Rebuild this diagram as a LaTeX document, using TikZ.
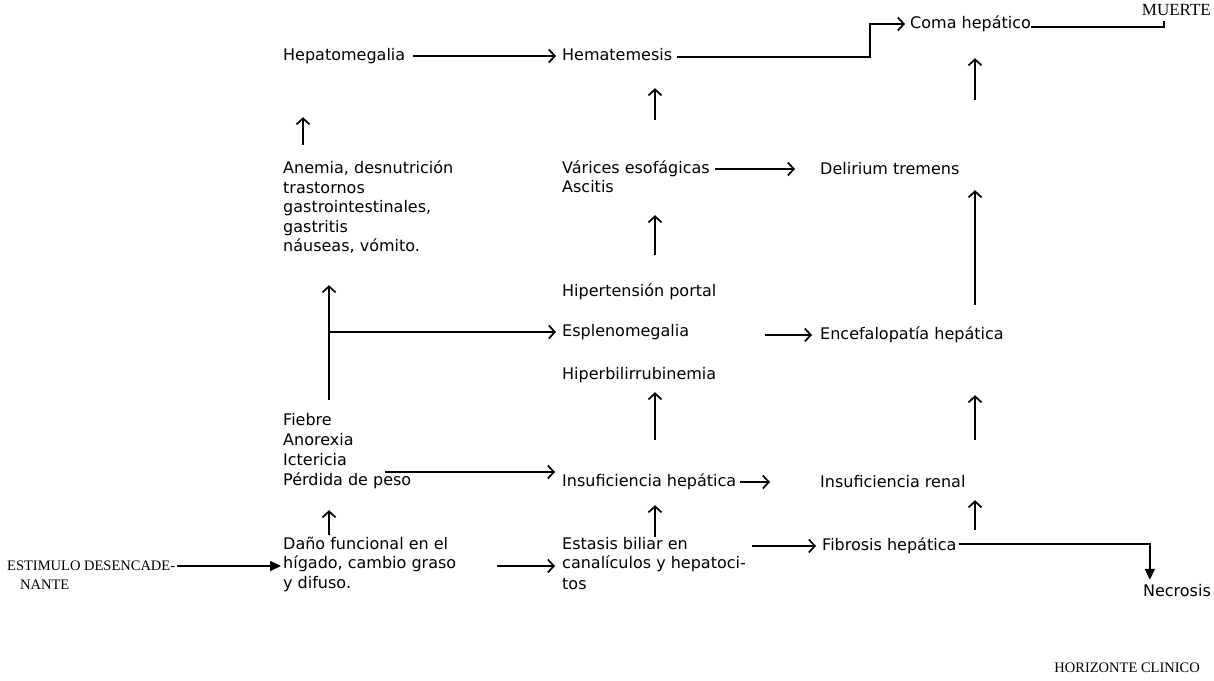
\documentclass[tikz,border=0pt]{standalone}
\usepackage{fontspec}
\setmainfont{DejaVu Sans}
\newfontfamily\serifl{Liberation Serif}
\usetikzlibrary{arrows.meta}
\begin{document}
\begin{tikzpicture}[x=1pt,y=-1pt,
  lbl/.style={font=\fontsize{16}{20}\selectfont, inner sep=0pt, anchor=west, text height=12pt, text depth=4pt},
  ser/.style={font=\serifl\fontsize{14.5}{18}\selectfont, inner sep=0pt, anchor=west, text height=12pt, text depth=4pt},
  conn/.style={line width=1.7pt},
  arr/.style={conn,-{Straight Barb[length=6pt,width=13pt,line width=1.7pt]}},
  farr/.style={conn,-{Triangle[length=11pt,width=10pt]}}]
\useasboundingbox[fill=white] (0,0) rectangle (1214,680);

% column 1
\node[lbl] (hepa) at (283,56) {Hepatomegalia};
\node[lbl] (anem1) at (283,169) {Anemia, desnutrición};
\node[lbl] (anem2) at (283,189) {trastornos};
\node[lbl] (anem3) at (283,208) {gastrointestinales,};
\node[lbl] (anem4) at (283,228) {gastritis};
\node[lbl] (anem5) at (283,247) {náuseas, vómito.};
\node[lbl] (fieb1) at (283,421) {Fiebre};
\node[lbl] (fieb2) at (283,441) {Anorexia};
\node[lbl] (fieb3) at (283,461) {Ictericia};
\node[lbl] (fieb4) at (283,481) {Pérdida de peso};
\node[lbl] (dano1) at (283,545) {Daño funcional en el};
\node[lbl] (dano2) at (283,564) {hígado, cambio graso};
\node[lbl] (dano3) at (283,584) {y difuso.};

% column 2
\node[lbl] (hema) at (562,56) {Hematemesis};
\node[lbl] (vari) at (562,169) {Várices esofágicas};
\node[lbl] (asci) at (562,188) {Ascitis};
\node[lbl] (hiper) at (562,292) {Hipertensión portal};
\node[lbl] (esple) at (562,332) {Esplenomegalia};
\node[lbl] (hbili) at (562,375) {Hiperbilirrubinemia};
\node[lbl] (insh) at (562,482) {Insuficiencia hepática};
\node[lbl] (esta1) at (562,545) {Estasis biliar en};
\node[lbl] (esta2) at (562,564) {canalículos y hepatoci-};
\node[lbl] (esta3) at (562,585) {tos};

% column 3
\node[lbl] (coma) at (910,24) {Coma hepático};
\node[lbl] (deli) at (820,170) {Delirium tremens};
\node[lbl] (ence) at (820,335) {Encefalopatía hepática};
\node[lbl] (insr) at (820,483) {Insuficiencia renal};
\node[lbl] (fibr) at (822,546) {Fibrosis hepática};
\node[lbl, anchor=east] (necr) at (1211,592) {Necrosis};

% serif labels
\node[ser, font=\serifl\fontsize{17}{18}\selectfont, anchor=east] (muerte) at (1211,12) {MUERTE};
\node[ser] (esti1) at (7,566) {ESTIMULO DESENCADE-};
\node[ser] (esti2) at (20,585) {NANTE};
\node[ser, anchor=east] (hori) at (1200,668) {HORIZONTE CLINICO};

% connectors, column 1
\draw[arr, shorten <=8pt, shorten >=6pt] (hepa.east) -- (hema.west |- hepa.east);
\draw[arr, shorten <=16pt, shorten >=53pt] ([xshift=20pt]anem1.north west) -- ([xshift=20pt]anem1.north west |- hepa.south);
\draw[arr, shorten <=13pt, shorten >=30pt] ([xshift=46pt]fieb1.north west) -- ([xshift=46pt]fieb1.north west |- anem5.south);
\coordinate (br) at ([xshift=46pt]fieb1.north west |- esple.west);
\draw[arr, shorten >=6pt] (br) -- (esple.west);
\draw[arr, shorten >=7pt] ([xshift=102pt,yshift=9pt]fieb4.west) -- ([yshift=9pt]fieb4.west -| insh.west);
\draw[arr, shorten <=2pt, shorten >=21pt] ([xshift=46pt]dano1.north west) -- ([xshift=46pt]dano1.north west |- fieb4.south);
\draw[farr, shorten <=2pt, shorten >=2pt] (esti1.east) -- (esti1.east -| dano2.west);
\draw[arr, shorten >=7pt] ([xshift=214pt,yshift=-2pt]dano2.west) -- ([yshift=-2pt]dano2.west -| esta2.west);

% connectors, column 2
\coordinate (hc) at ([xshift=-40pt]coma.west);
\draw[arr, shorten >=5pt] ([xshift=5pt,yshift=-1pt]hema.east) -| (hc) -- (coma.west);
\draw[arr, shorten <=41pt, shorten >=24pt] ([xshift=93pt]vari.north west) -- ([xshift=93pt]vari.north west |- hema.south);
\draw[arr, shorten <=29pt, shorten >=19pt] ([xshift=93pt]hiper.north west) -- ([xshift=93pt]hiper.north west |- asci.south);
\draw[arr, shorten <=34pt, shorten >=9pt] ([xshift=93pt]insh.north west) -- ([xshift=93pt]insh.north west |- hbili.south);
\draw[arr, shorten >=15pt] ([xshift=93pt]esta1.north west) -- ([xshift=93pt]esta1.north west |- insh.south);
\draw[arr, shorten <=5pt, shorten >=25pt] (vari.east) -- (vari.east -| deli.west);
\draw[arr, shorten >=8pt] ([xshift=203pt,yshift=-3pt]esple.west) -- ([yshift=-3pt]esple.west -| ence.west);
\draw[arr, shorten <=4pt, shorten >=50pt] (insh.east) -- (insh.east -| insr.west);
\draw[arr, shorten >=6pt] ([xshift=190pt,yshift=-1pt]esta1.west) -- ([yshift=-1pt]esta1.west -| fibr.west);

% connectors, column 3
\draw[conn] ([yshift=-3pt]coma.east) -| ([xshift=22pt,yshift=-1pt]muerte.south west);
\draw[arr, shorten <=62pt, shorten >=26pt] ([xshift=155pt]deli.north west) -- ([xshift=155pt]deli.north west |- coma.south);
\draw[arr, shorten <=22pt, shorten >=12pt] ([xshift=155pt]ence.north west) -- ([xshift=155pt]ence.north west |- deli.south);
\draw[arr, shorten <=35pt, shorten >=52pt] ([xshift=155pt]insr.north west) -- ([xshift=155pt]insr.north west |- ence.south);
\draw[arr, shorten <=8pt, shorten >=9pt] ([xshift=153pt]fibr.north west) -- ([xshift=153pt]fibr.north west |- insr.south);
\coordinate (nc) at ([xshift=7pt]necr.north west);
\draw[farr, shorten >=4pt] ([xshift=2pt,yshift=2pt]fibr.east) -| (nc);
\end{tikzpicture}
\end{document}
